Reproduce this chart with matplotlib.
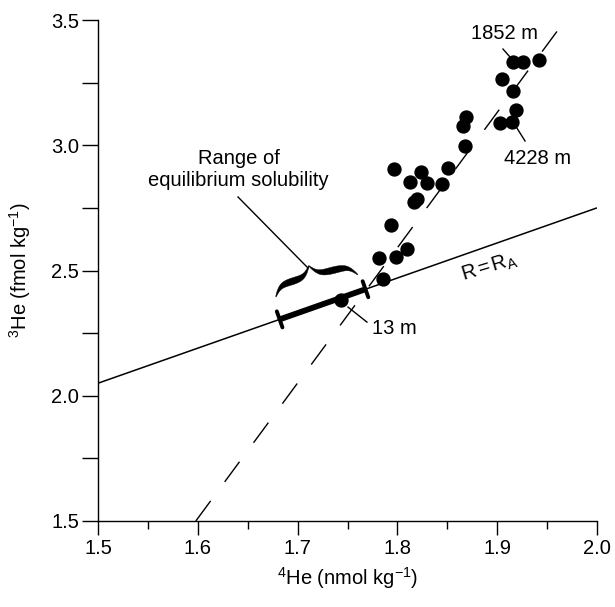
import numpy as np
import matplotlib
matplotlib.use("Agg")
import matplotlib.pyplot as plt
from matplotlib.patches import Polygon
from matplotlib.ticker import MultipleLocator, FormatStrFormatter

plt.rcParams['font.family'] = ['Liberation Sans', 'DejaVu Sans']
plt.rcParams['mathtext.fontset'] = 'custom'
plt.rcParams['mathtext.rm'] = 'Liberation Sans'
plt.rcParams['mathtext.it'] = 'Liberation Sans:italic'
plt.rcParams['mathtext.bf'] = 'Liberation Sans:bold'

# ---------------- data ----------------
he4 = [1.786, 1.782, 1.799, 1.810, 1.794, 1.817, 1.820, 1.813, 1.824, 1.830,
       1.797, 1.845, 1.851, 1.868, 1.866, 1.869, 1.903, 1.915, 1.919, 1.916,
       1.905, 1.916, 1.926, 1.942]
he3 = [2.466, 2.550, 2.554, 2.586, 2.682, 2.773, 2.785, 2.853, 2.893, 2.849,
       2.905, 2.845, 2.909, 2.997, 3.076, 3.113, 3.089, 3.092, 3.141, 3.217,
       3.264, 3.332, 3.332, 3.340]
surf_he4 = [1.7435]
surf_he3 = [2.383]

ra_x = [1.5, 2.0]          # R = R_A line
ra_y = [2.05, 2.75]
mix_x = [1.598, 1.970]     # dashed mixing line
mix_y = [1.5, 3.509]
eq_x = [1.682, 1.768]      # range of equilibrium solubility
eq_y = list(np.interp(eq_x, ra_x, ra_y))

xticks = [1.5, 1.6, 1.7, 1.8, 1.9, 2.0]
yticks = [1.5, 2.0, 2.5, 3.0, 3.5]

FS = 14.5

fig = plt.figure(figsize=(6.15, 6.07), dpi=100)
ax = fig.add_axes([98/615, 86/607, 499/615, 501/607])
ax.set_xlim(1.5, 2.0)
ax.set_ylim(1.5, 3.5)

for s in ['top', 'right']:
    ax.spines[s].set_visible(False)
for s in ['left', 'bottom']:
    ax.spines[s].set_linewidth(1.0)

ax.set_xticks(xticks)
ax.set_yticks(yticks)
ax.xaxis.set_minor_locator(MultipleLocator(0.05))
ax.yaxis.set_minor_locator(MultipleLocator(0.25))
ax.xaxis.set_major_formatter(FormatStrFormatter('%.1f'))
ax.yaxis.set_major_formatter(FormatStrFormatter('%.1f'))
ax.tick_params(axis='x', which='major', length=10, width=1, pad=3, labelsize=FS)
ax.tick_params(axis='x', which='minor', length=6, width=1)
ax.tick_params(axis='y', which='both', length=11.5, width=1, pad=2, labelsize=FS)

ax.set_xlabel(r'$^{4}$He (nmol kg$^{-1}$)', fontsize=FS)
ax.set_ylabel(r'$^{3}$He (fmol kg$^{-1}$)', fontsize=FS)
ax.xaxis.set_label_coords(0.501, -0.114)
ax.xaxis.label.set_va('center')
ax.yaxis.set_label_coords(-0.156, 0.5)
ax.yaxis.label.set_va('center')

# lines
ax.plot(ra_x, ra_y, color='black', lw=1.1, solid_capstyle='butt', zorder=2)
ax.plot(mix_x, mix_y, color='black', lw=1.0, dashes=(18, 17), clip_on=False, zorder=2)
ax.plot(eq_x, eq_y, color='black', lw=4.2, solid_capstyle='butt', zorder=3)

# end bars of the range (perpendicular to line)
pe = ax.transData.transform(np.column_stack([eq_x, eq_y]))
u = (pe[1] - pe[0]) / np.linalg.norm(pe[1] - pe[0])
nrm = np.array([-u[1], u[0]])
inv = ax.transData.inverted()
for p in pe:
    a = inv.transform(p + nrm * 8.5)
    b = inv.transform(p - nrm * 8.5)
    ax.plot([a[0], b[0]], [a[1], b[1]], color='black', lw=2.8,
            solid_capstyle='round', zorder=3)

# curly brace above the range
bs = pe[0] + u * 4.0 + nrm * 22.7
be = pe[0] + u * 88.5 + nrm * 16.5
chord = be - bs
Lb = np.linalg.norm(chord)
uc = chord / Lb
nc = np.array([-uc[1], uc[0]])
H = 21.0
tip = 0.47 * Lb
beta = 0.27

def half(a, n=100):
    x = np.linspace(0, a, n)
    y = 1/(1+np.exp(-beta*x)) + 1/(1+np.exp(-beta*(x - a))) - 0.5
    y = (y - y[0]) / (y[-1] - y[0])
    t = 5.8 * np.sin(np.pi * x / a) ** 0.7 + 0.9
    return x, y, t

xl, yl, tl = half(tip)
xr, yr, tr = half(Lb - tip)
xs = np.concatenate([xl, Lb - xr[::-1]])
ys = np.concatenate([yl, yr[::-1]]) * H
ts = np.concatenate([tl, tr[::-1]])
up = np.column_stack([xs, ys + ts / 2])
lo = np.column_stack([xs, ys - ts / 2])
outline = np.vstack([up, lo[::-1]])
disp = bs + outline[:, :1] * uc + outline[:, 1:2] * nc
ax.add_patch(Polygon(inv.transform(disp), closed=True, facecolor='black',
                     edgecolor='black', lw=0.3, zorder=3))

# points
ax.plot(he4, he3, 'o', color='black', ms=9.3, clip_on=False, zorder=4)
ax.plot(surf_he4, surf_he3, 'o', color='black', ms=9.3, zorder=4)

# annotations
ax.text(1.641, 2.903, 'Range of\nequilibrium solubility', ha='center', va='center',
        fontsize=FS, linespacing=1.15)
ax.plot([1.6403, 1.7104], [2.7934, 2.510], color='black', lw=1.0)

ax.text(1.7966, 2.270, '13 m', ha='center', va='center', fontsize=FS)
ax.plot([1.7505, 1.7695], [2.354, 2.294], color='black', lw=1.0)

ax.text(1.9078, 3.448, '1852 m', ha='center', va='center', fontsize=FS)
ax.plot([1.9058, 1.9138], [3.384, 3.348], color='black', lw=1.0)

ax.text(1.940, 2.949, '4228 m', ha='center', va='center', fontsize=FS)
ax.plot([1.9178, 1.9279], [3.081, 3.017], color='black', lw=1.0)

ax.text(1.8928, 2.514, r'R$\,$=$\,$R$_{\mathrm{A}}$', ha='center', va='center',
        fontsize=FS, rotation=17, rotation_mode='anchor')

fig.savefig('out.png', dpi=100)
